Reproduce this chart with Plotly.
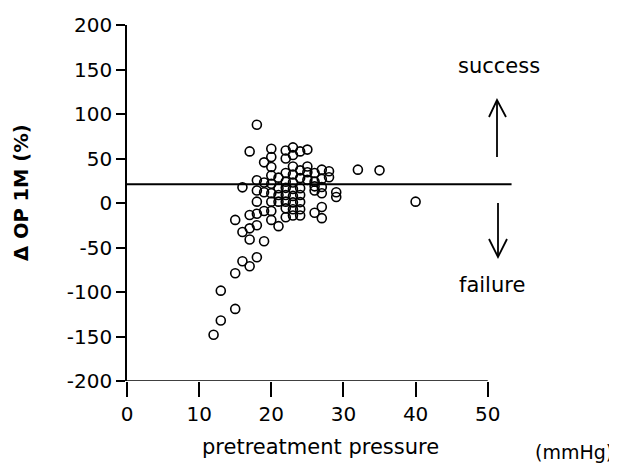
import plotly.graph_objects as go

# ---- data ----
pressure = [12,
            13, 13,
            15, 15, 15,
            16, 16, 16,
            17, 17, 17, 17, 17,
            18, 18, 18, 18, 18, 18, 18,
            19, 19, 19, 19, 19,
            20, 20, 20, 20, 20, 20, 20, 20, 20,
            21, 21, 21, 21, 21,
            22, 22, 22, 22, 22, 22, 22, 22, 22,
            23, 23, 23, 23, 23, 23, 23, 23, 23, 23,
            24, 24, 24, 24, 24, 24, 24, 24,
            25, 25, 25, 25,
            26, 26, 26, 26, 26,
            27, 27, 27, 27, 27, 27,
            28, 28,
            29, 29,
            32, 35, 40]
delta_op = [-148,
            -98.5, -132,
            -19, -79, -119,
            17.6, -32.6, -65.5,
            58, -13.5, -28.5, -41, -71,
            88, 25.5, 14, 1.5, -12, -25, -61,
            45.7, 23, 12, -9, -43,
            61, 51.7, 40.4, 31, 21.7, 11, 1.5, -9, -19,
            28.5, 16.5, 9, 1.5, -26,
            59, 50, 33.7, 24, 17, 9, 1.5, -6, -16,
            62.5, 54, 41, 32, 23, 15.7, 8, 0.7, -7, -14,
            58, 36.7, 28, 16.5, 9, 1, -7, -14,
            60, 41, 34.5, 26,
            33.7, 24, 18.7, 14, -11,
            37.5, 27, 18, 11, -4.5, -17,
            35.6, 29,
            12, 6.7,
            37.5, 36.7, 1.5]
threshold = 21
threshold_end = 53.3

x_ticks = [0, 10, 20, 30, 40, 50]
x_ticklabels = ["0", "10", "20", "30", "40", "50"]
y_ticks = [-200, -150, -100, -50, 0, 50, 100, 150, 200]
y_ticklabels = ["-200", "-150", "-100", "-50", "0", "50", "100", "150", "200"]

# ---- layout geometry (pixels) ----
OFF = 8  # page body margin
W, H = 617, 463
L, T = 127 - OFF, 25 - OFF
PW, PH = 386, 356
R, B = W - L - PW, H - T - PH


def px(x):
    return (x - OFF - L) / PW


def py(y):
    return (T + PH - (y - OFF)) / PH


FONT = "DejaVu Sans"

fig = go.Figure()
fig.add_trace(go.Scatter(
    x=pressure, y=delta_op, mode="markers",
    marker=dict(symbol="circle-open", size=9, color="black",
                line=dict(width=1.6, color="black")),
    showlegend=False, cliponaxis=False,
))

shapes = [
    # threshold line
    dict(type="line", xref="x", yref="y", x0=0, x1=threshold_end,
         y0=threshold, y1=threshold, line=dict(color="black", width=2)),
    # x axis line (0..50 only)
    dict(type="line", xref="x", yref="y", x0=0, x1=50, y0=-200, y1=-200,
         line=dict(color="black", width=1.6)),
    # up arrow
    dict(type="line", xref="paper", yref="paper", x0=px(497), x1=px(497),
         y0=py(157), y1=py(100), line=dict(color="black", width=1.8)),
    dict(type="path", xref="paper", yref="paper",
         path=f"M {px(489)} {py(117)} L {px(497)} {py(100)} L {px(506)} {py(117)}",
         line=dict(color="black", width=1.8)),
    # down arrow
    dict(type="line", xref="paper", yref="paper", x0=px(498), x1=px(498),
         y0=py(203), y1=py(257), line=dict(color="black", width=1.8)),
    dict(type="path", xref="paper", yref="paper",
         path=f"M {px(489)} {py(239)} L {px(498)} {py(257)} L {px(507)} {py(239)}",
         line=dict(color="black", width=1.8)),
]


def label(text, x, y, size, angle=0):
    return dict(text=text, xref="paper", yref="paper", x=px(x), y=py(y),
                xanchor="center", yanchor="middle", textangle=angle,
                showarrow=False, font=dict(family=FONT, size=size, color="black"))


annotations = [
    label("success", 499, 66, 21),
    label("failure", 492, 285, 21),
    label("<b>Δ OP 1M (%)</b>", 21, 193, 19.5, -90),
    label("pretreatment pressure", 320, 447, 21),
    label("(mmHg)", 574, 452, 19),
]

fig.update_layout(
    template="none",
    width=W, height=H,
    margin=dict(l=L, r=R, t=T, b=B, pad=0, autoexpand=False),
    paper_bgcolor="white", plot_bgcolor="white",
    shapes=shapes, annotations=annotations,
    font=dict(family=FONT, size=20, color="black"),
    xaxis=dict(range=[0, 53.5], tickmode="array", tickvals=x_ticks,
               ticktext=x_ticklabels, ticks="outside", ticklen=15, tickwidth=1.6,
               tickcolor="black", showline=False, showgrid=False, zeroline=False,
               automargin=False,
               tickfont=dict(family=FONT, size=20, color="black")),
    yaxis=dict(range=[-200, 200], tickmode="array", tickvals=y_ticks,
               ticktext=y_ticklabels, ticks="outside", ticklen=9, tickwidth=1.6,
               tickcolor="black", showline=True, linecolor="black", linewidth=1.6,
               showgrid=False, zeroline=False, automargin=False,
               tickfont=dict(family=FONT, size=20, color="black")),
)

fig.write_html("out.html")
